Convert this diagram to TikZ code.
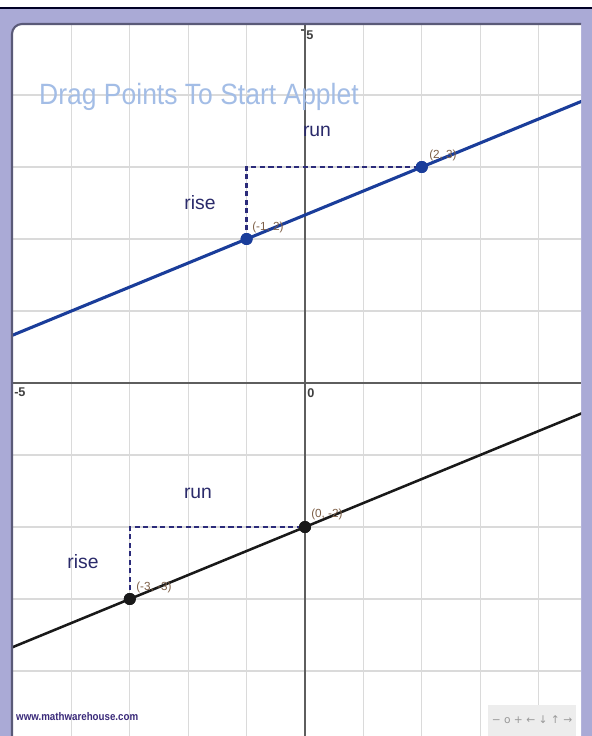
\documentclass[tikz,border=0pt]{standalone}
\usepackage{fontspec}
\setmainfont{Liberation Sans}
\newfontfamily\symfont{DejaVu Sans}
\definecolor{lav}{HTML}{AAAAD6}
\definecolor{panelborder}{HTML}{5A5A78}
\definecolor{gridc}{HTML}{DADADA}
\definecolor{axisc}{HTML}{5E5E5E}
\definecolor{blueline}{HTML}{1A3D9A}
\definecolor{dashc}{HTML}{2B2B7A}
\definecolor{wordc}{HTML}{2A2A6A}
\definecolor{ptc}{HTML}{7E6048}
\definecolor{titlec}{HTML}{A3BDE6}
\definecolor{markc}{HTML}{3A2A7A}
\tikzset{
  gridline/.style={draw=gridc, line width=0.85pt},
  axisline/.style={draw=axisc, line width=0.9pt},
  bluedot/.style={circle, fill=blueline, inner sep=0pt, minimum size=9pt},
  blackdot/.style={circle, fill=black!90, inner sep=0pt, minimum size=9pt},
  dashline/.style={draw=dashc, line width=1.9pt, dash pattern=on 3.8pt off 2.6pt},
  word/.style={text=wordc, font=\fontsize{14.5pt}{16pt}\selectfont, inner sep=0pt},
  ptlabel/.style={text=ptc, font=\fontsize{8.8pt}{10pt}\selectfont, inner sep=0pt, anchor=west},
  axlabel/.style={text=black!75, font=\bfseries\fontsize{9.5pt}{10pt}\selectfont, inner sep=0pt},
}
\begin{document}
\begin{tikzpicture}[x=0.75pt,y=-0.75pt]
\useasboundingbox (0,0) rectangle (592,736);
% background
\fill[white] (0,0) rectangle (592,736);
\fill[lav] (0,7) rectangle (592,736);
\fill[black!85!blue] (0,6.5) rectangle (592,9.3);
% panel
\fill[white] (581,760) -- (581,24) [rounded corners=7.5pt] -- (12,24) -- (12,760) -- cycle;
\begin{scope}
\clip (581,760) -- (581,24) [rounded corners=7.5pt] -- (12,24) -- (12,760) -- cycle;
% grid
\foreach \k in {-4,-3,-2,-1,1,2,3,4} {
  \draw[gridline] ({305+58.4*\k},24) -- ({305+58.4*\k},736);
}
\foreach \k in {-4,-3,-2,-1,1,2,3,4,5,-5} {
  \draw[gridline] (12,{383-72*\k}) -- (581,{383-72*\k});
}
% axes
\draw[axisline] (305,24) -- (305,736);
\draw[axisline] (12,383) -- (581,383);
\draw[axisline] (301,30) -- (305,30);
% title
\node[text=titlec, font=\fontsize{22pt}{24pt}\selectfont, xscale=0.903, anchor=west, inner sep=0pt] (title) at (39,97) {Drag Points To Start Applet};
\begin{scope}[shift={(305,383)}]
\begin{scope}[x=43.8pt, y=54pt]
\coordinate (bl) at (-5.4,0.533);
\coordinate (br) at (4.9,3.967);
\coordinate (kl) at (-5.4,-3.8);
\coordinate (kr) at (4.9,-0.367);
\node[bluedot] (A) at (-1,2) {};
\node[bluedot] (B) at (2,3) {};
\node[blackdot] (C) at (-3,-3) {};
\node[blackdot] (D) at (0,-2) {};
\draw[dashline] (A.center) |- (B.center);
\draw[dashline] (C.center) |- (D.center);
\draw[blueline, line width=2.3pt] (bl) -- (br);
\draw[black!90, line width=1.9pt] (kl) -- (kr);
\node[bluedot] at (A) {};
\node[bluedot] at (B) {};
\node[blackdot] at (C) {};
\node[blackdot] at (D) {};
\end{scope}
\end{scope}
\end{scope}
% panel border (top and left)
\draw[panelborder, line width=1.6pt, rounded corners=7.5pt] (581,24) -- (12,24) -- (12,760);
% labels
\node[word] (run1) at (317,131) {run};
\node[word] (rise1) at (200,203) {rise};
\node[word] (run2) at (198,493) {run};
\node[word] (rise2) at (83,562) {rise};
\node[ptlabel] (lA) at (252,227) {(-1, 2)};
\node[ptlabel] (lB) at (429,155) {(2, 3)};
\node[ptlabel] (lC) at (136,587) {(-3, -3)};
\node[ptlabel] (lD) at (311,514) {(0, -2)};
\node[axlabel, anchor=west] (l5) at (306,35) {5};
\node[axlabel, anchor=west] (lm5) at (14,392) {-5};
\node[axlabel, anchor=west] (l0) at (307,393) {0};
\node[text=markc, font=\bfseries\fontsize{8.3pt}{9pt}\selectfont, xscale=0.88, anchor=west, inner sep=0pt] (site) at (16,717) {www.mathwarehouse.com};
\fill[black!7] (488,705) rectangle (576,736);
\node[text=black!40, font=\symfont\fontsize{8pt}{9pt}\selectfont, inner sep=0pt] (ctrl) at (532,720) {− o + ← ↓ ↑ →};
\end{tikzpicture}
\end{document}
